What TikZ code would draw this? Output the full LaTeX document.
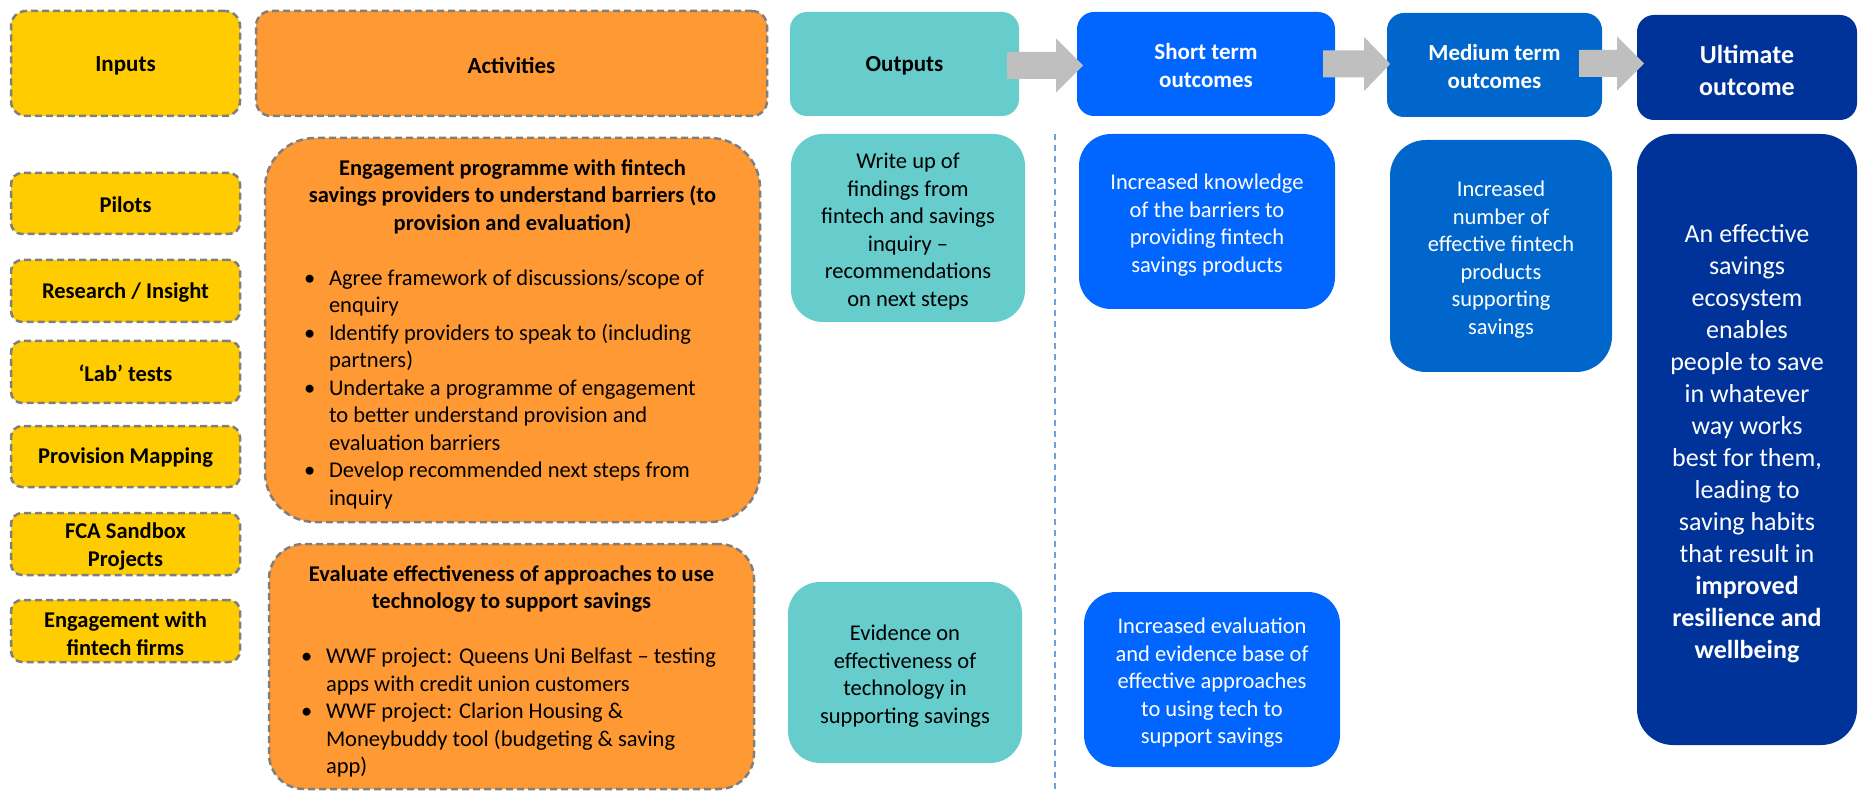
\documentclass[tikz,border=0pt]{standalone}
\usepackage{fontspec}
\setmainfont{Carlito}
\usetikzlibrary{calc}

\definecolor{inyellow}{HTML}{FFCC00}
\definecolor{actorange}{HTML}{FF9933}
\definecolor{outteal}{HTML}{66CCCC}
\definecolor{shortblue}{HTML}{0066FF}
\definecolor{medblue}{HTML}{0066CC}
\definecolor{ultblue}{HTML}{003399}
\definecolor{arrowgrey}{HTML}{BFBFBF}
\definecolor{bordergrey}{HTML}{7F7F7F}
\definecolor{divblue}{HTML}{6FA0DC}

% grey block arrow: start point, body length, head length
\newcommand{\blockarrow}[3]{%
  \fill[arrowgrey] ($(#1)+(0,-13.5)$) -- ++(#2,0) -- ++(0,-13.5) -- ++(#3,27)
    -- ++(-#3,27) -- ++(0,-13.5) -- ++(-#2,0) -- cycle;}

% bullet marker and left-aligned bullet block of a given width
\newcommand{\bul}{\makebox[25pt][l]{•}}
\newcommand{\bulletblock}[2]{\makebox[#1pt][l]{\begin{tabular}[t]{@{}l@{}l@{}}#2\end{tabular}}}

\tikzset{
  sz/.style 2 args={minimum width=#1pt, minimum height=#2pt},
  shell/.style={inner sep=0pt},
  dashbox/.style={shell, draw=bordergrey, line width=2.5pt, dash pattern=on 7pt off 4pt},
  inbox/.style={dashbox, fill=inyellow, rounded corners=11pt},
  actbox/.style={dashbox, fill=actorange},
  outbox/.style={shell, fill=outteal},
  shortbox/.style={shell, fill=shortblue},
  medbox/.style={shell, fill=medblue},
  ultbox/.style={shell, fill=ultblue},
  % texts set inside the boxes
  txt/.style={inner sep=0pt, align=center, font=\fontsize{22.5}{27.5}\selectfont},
  wtxt/.style={txt, text=white},
  headtxt/.style={txt, font=\fontsize{23}{28}\selectfont\bfseries},
  wheadtxt/.style={headtxt, text=white},
}

\begin{document}
\begin{tikzpicture}[x=1pt, y=-1pt]
\useasboundingbox (0,0) rectangle (1858,791);

% column headings
\node[inbox, rounded corners=15pt, sz={229}{105}] (inh) at (125.5,63.5) {};
\node[actbox, rounded corners=15pt, sz={511}{105}] (acth) at (511.5,63.5) {};
\node[outbox, rounded corners=17pt, sz={229}{104}] (outh) at (904.5,64) {};
\node[shortbox, rounded corners=17pt, sz={258}{104}] (shorth) at (1206,64) {};
\node[medbox, rounded corners=17pt, sz={215}{104}] (medh) at (1494.5,65) {};
\node[ultbox, rounded corners=17pt, sz={220}{105}] (ulth) at (1747,67.5) {};

\node[headtxt] (inht) at ($(inh.center)+(0,2)$) {Inputs};
\node[headtxt] (actht) at ($(acth.center)+(0,2)$) {Activities};
\node[headtxt] (outht) at ($(outh.center)+(0,2)$) {Outputs};
\node[wheadtxt] (shortht) at ($(shorth.center)+(0,2)$) {Short term\\outcomes};
\node[wheadtxt] (medht) at ($(medh.center)+(0,2)$) {Medium term\\outcomes};
\node[wheadtxt, font=\fontsize{26}{32}\selectfont\bfseries] (ultht) at ($(ulth.center)+(0,2.5)$) {Ultimate\\outcome};

% arrows between the outcome headings
\coordinate (a1) at ($(outh.east)+(-12,1.5)$);
\coordinate (a2) at ($(shorth.east)+(-12,0)$);
\coordinate (a3) at ($(medh.east)+(-23,-1.5)$);
\blockarrow{a1}{49}{27}
\blockarrow{a2}{41}{26}
\blockarrow{a3}{38}{27}

% inputs
\node[inbox, sz={229}{61}] (pilots) at (125.5,203.5) {};
\node[inbox, sz={229}{62}] (research) at (125.5,291) {};
\node[inbox, sz={229}{62}] (lab) at (125.5,372) {};
\node[inbox, sz={229}{61}] (provision) at (125.5,456.5) {};
\node[inbox, sz={229}{62}] (fca) at (125.5,544) {};
\node[inbox, sz={229}{62}] (firms) at (125.5,631) {};

\node[headtxt, font=\fontsize{22.5}{27.5}\selectfont\bfseries] (pilotst) at ($(pilots.center)+(0,1.5)$) {Pilots};
\node[headtxt, font=\fontsize{22.5}{27.5}\selectfont\bfseries] (researcht) at ($(research.center)+(0,1.5)$) {Research / Insight};
\node[headtxt, font=\fontsize{22.5}{27.5}\selectfont\bfseries] (labt) at ($(lab.center)+(0,1.5)$) {‘Lab’ tests};
\node[headtxt, font=\fontsize{22.5}{27.5}\selectfont\bfseries] (provisiont) at ($(provision.center)+(0,1.5)$) {Provision Mapping};
\node[headtxt, font=\fontsize{22.5}{27.5}\selectfont\bfseries] (fcat) at ($(fca.center)+(0,2.5)$) {FCA Sandbox\\Projects};
\node[headtxt, font=\fontsize{22.5}{27.5}\selectfont\bfseries] (firmst) at ($(firms.center)+(0,2.5)$) {Engagement with\\fintech firms};

% activities
\node[actbox, rounded corners=50pt, sz={495}{384}] (engage) at (512.5,330) {};
\node[txt] (engaget) at ($(engage.center)+(0,6.5)$) {%
  \textbf{Engagement programme with fintech}\\
  \textbf{savings providers to understand barriers (to}\\
  \textbf{provision and evaluation)}\\[27.5pt]
  \bulletblock{417}{%
    \bul & Agree framework of discussions/scope of\\
         & enquiry\\
    \bul & Identify providers to speak to (including\\
         & partners)\\
    \bul & Undertake a programme of engagement\\
         & to better understand provision and\\
         & evaluation barriers\\
    \bul & Develop recommended next steps from\\
         & inquiry}};

\node[actbox, rounded corners=35pt, sz={485}{245}] (evaluate) at (511.5,666.5) {};
\node[txt] (evaluatet) at ($(evaluate.center)+(0,7)$) {%
  \textbf{Evaluate effectiveness of approaches to use}\\
  \textbf{technology to support savings}\\[27.5pt]
  \bulletblock{421}{%
    \bul & WWF project: Queens Uni Belfast – testing\\
         & apps with credit union customers\\
    \bul & WWF project: Clarion Housing \&\\
         & Moneybuddy tool (budgeting \& saving\\
         & app)}};

% outputs
\node[outbox, rounded corners=32pt, sz={234}{188}] (writeup) at (908,228) {};
\node[txt] (writeupt) at ($(writeup.center)+(0,3.5)$)
  {Write up of\\findings from\\fintech and savings\\inquiry –\\recommendations\\on next steps};
\node[outbox, rounded corners=32pt, sz={234}{181}] (evidence) at (905,672.5) {};
\node[txt] (evidencet) at ($(evidence.center)+(0,3.5)$)
  {Evidence on\\effectiveness of\\technology in\\supporting savings};

% divider between outputs and outcomes
\coordinate (divtop) at (1055,134);
\coordinate (divbot) at (1055,791);
\draw[divblue, line width=1.2pt, dash pattern=on 6pt off 5pt] (divtop) -- (divbot);

% short term outcomes
\node[shortbox, rounded corners=32pt, sz={256}{175}] (st1) at (1207,221.5) {};
\node[wtxt] (st1t) at ($(st1.center)+(0,3.5)$)
  {Increased knowledge\\of the barriers to\\providing fintech\\savings products};
\node[shortbox, rounded corners=32pt, sz={256}{175}] (st2) at (1212,679.5) {};
\node[wtxt] (st2t) at ($(st2.center)+(0,3.5)$)
  {Increased evaluation\\and evidence base of\\effective approaches\\to using tech to\\support savings};

% medium term outcome
\node[medbox, rounded corners=36pt, sz={222}{232}] (med) at (1501,256) {};
\node[wtxt] (medt) at ($(med.center)+(0,3.5)$)
  {Increased\\number of\\effective fintech\\products\\supporting\\savings};

% ultimate outcome
\node[ultbox, rounded corners=36pt, sz={220}{611}] (ult) at (1747,439.5) {};
\node[wtxt, font=\fontsize{26}{32}\selectfont] (ultt) at ($(ult.center)+(0,4)$)
  {An effective\\savings\\ecosystem\\enables\\people to save\\in whatever\\way works\\best for them,\\leading to\\saving habits\\that result in\\\textbf{improved}\\\textbf{resilience and}\\\textbf{wellbeing}};

\end{tikzpicture}
\end{document}
